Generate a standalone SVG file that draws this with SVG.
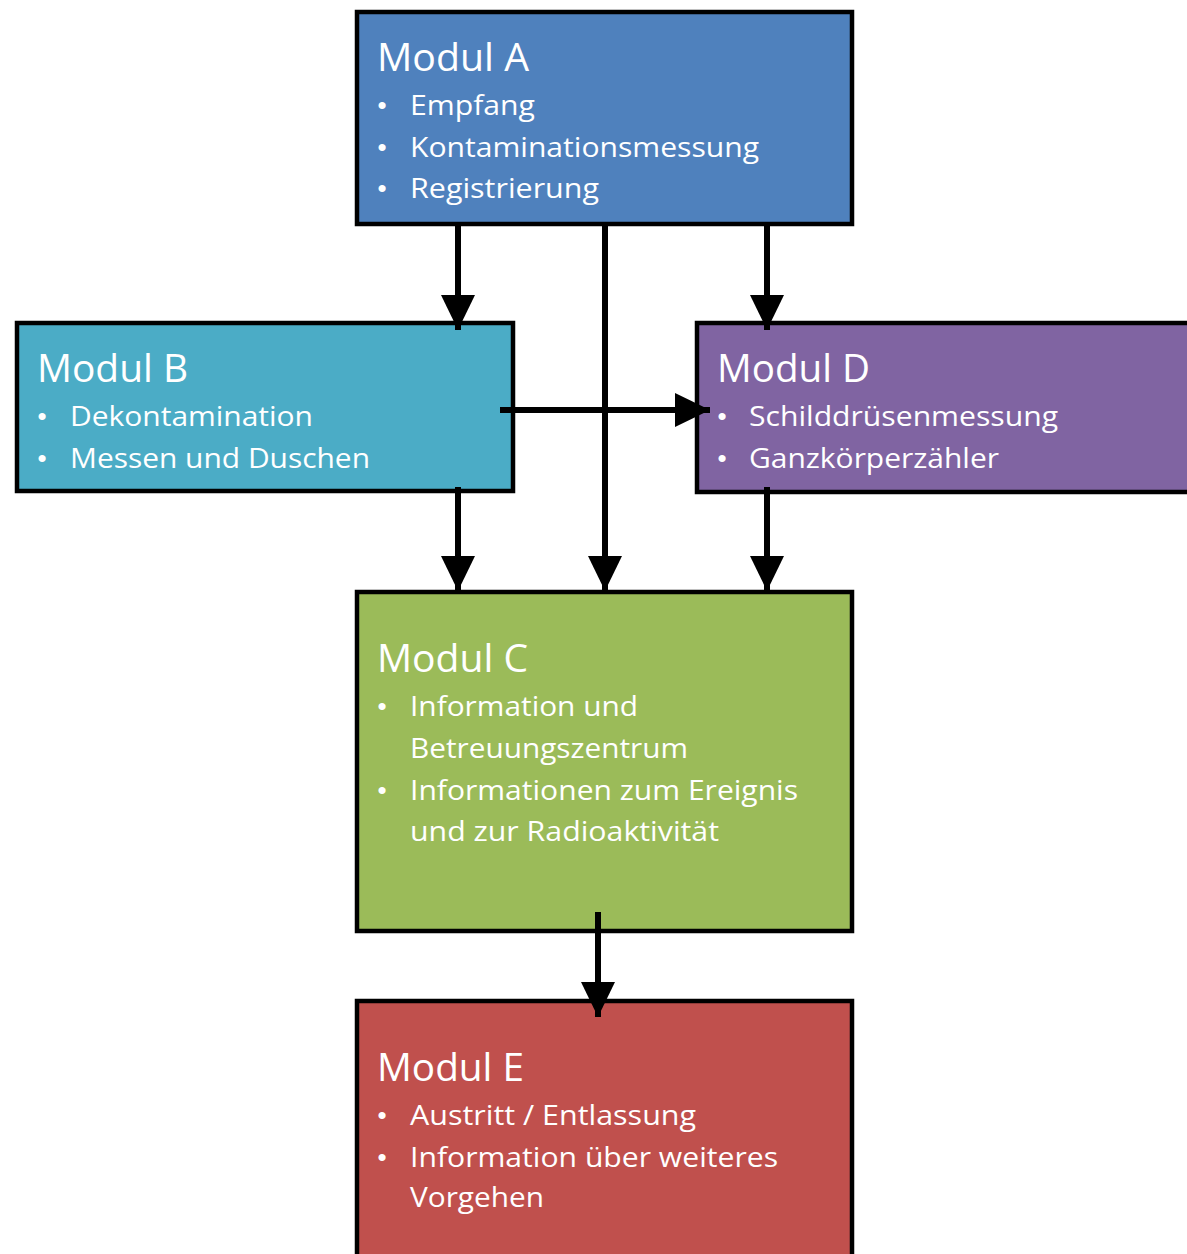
<svg xmlns="http://www.w3.org/2000/svg" width="1187" height="1254" viewBox="0 0 1187 1254">
  <style>
    .box { stroke: #000; stroke-width: 4.5; }
    .title { font-family: "Open Sans", "Liberation Sans", sans-serif; font-size: 39px; fill: #fff; }
    .item { font-family: "Open Sans", "Liberation Sans", sans-serif; font-size: 28px; fill: #fff; }
    .bul { font-family: "Liberation Sans", sans-serif; font-size: 26px; fill: #fff; text-anchor: middle; }
    .conn { stroke: #000; stroke-width: 6; fill: none; }
  </style>
  <defs>
    <marker id="arr" viewBox="0 0 35 34" refX="35" refY="17" markerWidth="35" markerHeight="34" markerUnits="userSpaceOnUse" orient="auto">
      <path d="M0,0 L35,17 L0,34 z" fill="#000"/>
    </marker>
  </defs>
  <rect width="1187" height="1254" fill="#fff"/>

  <g id="modul-a">
    <rect class="box" x="357" y="12" width="495" height="212" fill="#4F81BD"/>
    <text class="title" x="377" y="71" textLength="152" lengthAdjust="spacingAndGlyphs">Modul A</text>
    <text class="bul" x="382" y="114">•</text>
    <text class="item" x="410" y="115" textLength="125" lengthAdjust="spacingAndGlyphs">Empfang</text>
    <text class="bul" x="382" y="156">•</text>
    <text class="item" x="410" y="157" textLength="349" lengthAdjust="spacingAndGlyphs">Kontaminationsmessung</text>
    <text class="bul" x="382" y="197">•</text>
    <text class="item" x="410" y="198" textLength="189" lengthAdjust="spacingAndGlyphs">Registrierung</text>
  </g>

  <g id="modul-b">
    <rect class="box" x="17" y="323" width="496" height="168" fill="#4BACC6"/>
    <text class="title" x="37" y="382" textLength="151" lengthAdjust="spacingAndGlyphs">Modul B</text>
    <text class="bul" x="42" y="425">•</text>
    <text class="item" x="70" y="426" textLength="243" lengthAdjust="spacingAndGlyphs">Dekontamination</text>
    <text class="bul" x="42" y="467">•</text>
    <text class="item" x="70" y="468" textLength="300" lengthAdjust="spacingAndGlyphs">Messen und Duschen</text>
  </g>

  <g id="modul-d">
    <rect class="box" x="697" y="323" width="500" height="169" fill="#8064A2"/>
    <text class="title" x="717" y="382" textLength="153" lengthAdjust="spacingAndGlyphs">Modul D</text>
    <text class="bul" x="722" y="425">•</text>
    <text class="item" x="749" y="426" textLength="309" lengthAdjust="spacingAndGlyphs">Schilddrüsenmessung</text>
    <text class="bul" x="722" y="467">•</text>
    <text class="item" x="749" y="468" textLength="250" lengthAdjust="spacingAndGlyphs">Ganzkörperzähler</text>
  </g>

  <g id="modul-c">
    <rect class="box" x="357" y="592" width="495" height="339" fill="#9BBB59"/>
    <text class="title" x="377" y="672" textLength="151" lengthAdjust="spacingAndGlyphs">Modul C</text>
    <text class="bul" x="382" y="715">•</text>
    <text class="item" x="410" y="716" textLength="228" lengthAdjust="spacingAndGlyphs">Information und</text>
    <text class="item" x="410" y="758" textLength="278" lengthAdjust="spacingAndGlyphs">Betreuungszentrum</text>
    <text class="bul" x="382" y="799">•</text>
    <text class="item" x="410" y="800" textLength="388" lengthAdjust="spacingAndGlyphs">Informationen zum Ereignis</text>
    <text class="item" x="410" y="841" textLength="309" lengthAdjust="spacingAndGlyphs">und zur Radioaktivität</text>
  </g>

  <g id="modul-e">
    <rect class="box" x="357" y="1001" width="495" height="270" fill="#C0504D"/>
    <text class="title" x="377" y="1081" textLength="147" lengthAdjust="spacingAndGlyphs">Modul E</text>
    <text class="bul" x="382" y="1124">•</text>
    <text class="item" x="410" y="1125" textLength="286" lengthAdjust="spacingAndGlyphs">Austritt / Entlassung</text>
    <text class="bul" x="382" y="1166">•</text>
    <text class="item" x="410" y="1167" textLength="368" lengthAdjust="spacingAndGlyphs">Information über weiteres</text>
    <text class="item" x="410" y="1207" textLength="134" lengthAdjust="spacingAndGlyphs">Vorgehen</text>
  </g>

  <g id="connectors">
    <line class="conn" x1="458" y1="224" x2="458" y2="330" marker-end="url(#arr)"/>
    <line class="conn" x1="767" y1="224" x2="767" y2="330" marker-end="url(#arr)"/>
    <line class="conn" x1="605" y1="224" x2="605" y2="591" marker-end="url(#arr)"/>
    <line class="conn" x1="500" y1="410" x2="710" y2="410" marker-end="url(#arr)"/>
    <line class="conn" x1="458" y1="487" x2="458" y2="591" marker-end="url(#arr)"/>
    <line class="conn" x1="767" y1="487" x2="767" y2="591" marker-end="url(#arr)"/>
    <line class="conn" x1="598" y1="912" x2="598" y2="1017" marker-end="url(#arr)"/>
  </g>
</svg>
